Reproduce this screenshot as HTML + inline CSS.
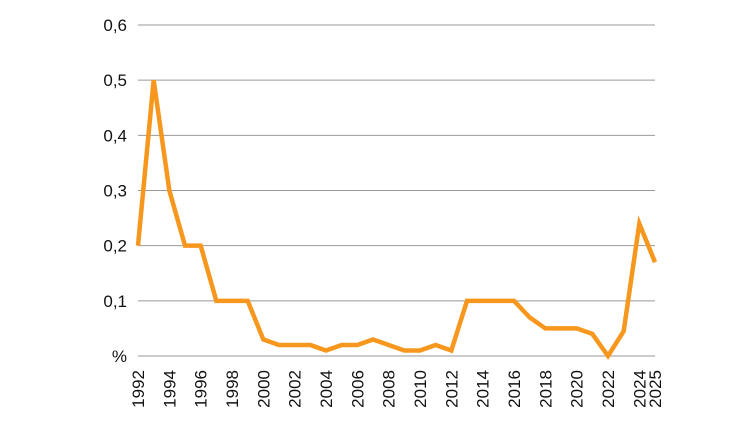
<!DOCTYPE html>
<html><head><meta charset="utf-8"><style>
body{margin:0;background:#fff;font-family:"Liberation Sans",sans-serif}
</style></head><body>
<svg id="c" width="755" height="424"></svg>
<script>
const years=[1992,1993,1994,1995,1996,1997,1998,1999,2000,2001,2002,2003,2004,2005,2006,2007,2008,2009,2010,2011,2012,2013,2014,2015,2016,2017,2018,2019,2020,2021,2022,2023,2024,2025];
const values=[0.2,0.5,0.3,0.2,0.2,0.1,0.1,0.1,0.03,0.02,0.02,0.02,0.01,0.02,0.02,0.03,0.02,0.01,0.01,0.02,0.01,0.1,0.1,0.1,0.1,0.07,0.05,0.05,0.05,0.04,0.0,0.045,0.24,0.17];
const yTicks=[0,0.1,0.2,0.3,0.4,0.5,0.6];
const yTickLabels=["%","0,1","0,2","0,3","0,4","0,5","0,6"];
const xTickLabels=[1992,1994,1996,1998,2000,2002,2004,2006,2008,2010,2012,2014,2016,2018,2020,2022,2024,2025];
const NS="http://www.w3.org/2000/svg";
const svg=document.getElementById('c');
const x=v=>138+(v-1992)*(655-138)/33;
const y=v=>356-v*(356-25)/0.6;
function mk(t,a){const e=document.createElementNS(NS,t);for(const k in a)e.setAttribute(k,a[k]);svg.appendChild(e);return e;}
yTicks.forEach((t,i)=>{
  const g=mk('line',{x1:138,x2:655,y1:y(t),y2:y(t),stroke:'#999','stroke-width':1});
  
  
  const l=mk('text',{x:127,y:y(t)+6,'text-anchor':'end','font-size':17,fill:'#111'});
  l.textContent=yTickLabels[i];
  
  
});
xTickLabels.forEach(yr=>{
  const cx=x(yr)+6;
  const l=mk('text',{x:0,y:0,'text-anchor':'end','font-size':17,fill:'#111',transform:`translate(${cx},${370}) rotate(-90)`});
  l.textContent=yr;
  
  
});
const p=mk('polyline',{points:years.map((yr,i)=>x(yr)+','+y(values[i])).join(' '),fill:'none',stroke:'#f7971e','stroke-width':4.5,'stroke-linejoin':'miter'});


</script>
</body></html>
